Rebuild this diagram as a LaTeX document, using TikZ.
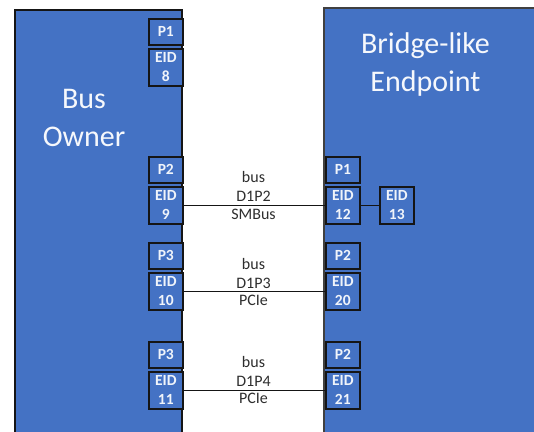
\documentclass[tikz,border=0pt]{standalone}
\usepackage{fontspec}
\setmainfont{Carlito}
\definecolor{boxblue}{HTML}{4472C4}
\definecolor{edge}{HTML}{151515}
\definecolor{lbl}{HTML}{2E2E2E}
\begin{document}
\begin{tikzpicture}[x=1pt,y=-1pt,
  mainbox/.style={fill=boxblue,draw=edge,line width=1.1pt},
  pbox/.style={fill=boxblue,draw=edge,line width=1.6pt,anchor=north west,minimum width=34pt,minimum height=26pt,inner sep=0pt,text=white!92!boxblue,font=\fontsize{15.5}{17}\selectfont\bfseries},
  eidbox/.style={fill=boxblue,draw=edge,line width=1.6pt,anchor=north west,minimum width=34pt,minimum height=37pt,inner sep=0pt,text=white!92!boxblue,align=center,font=\fontsize{15.5}{19}\selectfont\bfseries},
  title/.style={text=white!95!boxblue,align=center,font=\fontsize{30}{38}\selectfont},
  buslbl/.style={text=lbl,align=center,font=\fontsize{16}{19}\selectfont,inner sep=0pt},
  link/.style={draw=edge,line width=1.3pt}]
\useasboundingbox (0,0) rectangle (534,431);
\clip (0,0) rectangle (534,431);
\fill[white] (0,0) rectangle (534,431);
% main boxes
\draw[mainbox] (15,10) rectangle (182,445);
\draw[mainbox,draw=black!75] (324,8) rectangle (545,445);
\node[title] (bo) at (84,117.5) {Bus\\Owner};
\node[title] (be) at (425.5,64.5) {Bridge-like\\Endpoint};
% left ports
\node[pbox] (lp1) at (148,18) {P1};
\node[eidbox] (le8) at (148,48) {EID\\8};
\node[pbox] (lp2) at (148,156) {P2};
\node[eidbox] (le9) at (148,186) {EID\\9};
\node[pbox] (lp3a) at (148,242) {P3};
\node[eidbox] (le10) at (148,272) {EID\\10};
\node[pbox] (lp3b) at (148,341) {P3};
\node[eidbox] (le11) at (148,371) {EID\\11};
% right ports
\node[pbox] (rp1) at (325,156) {P1};
\node[eidbox] (re12) at (325,186) {EID\\12};
\node[eidbox] (re13) at (379,186) {EID\\13};
\node[pbox] (rp2a) at (325,242) {P2};
\node[eidbox] (re20) at (325,272) {EID\\20};
\node[pbox] (rp2b) at (325,341) {P2};
\node[eidbox] (re21) at (325,371) {EID\\21};
% links
\draw[link] (le9.east) -- (re12.west);
\draw[link] (re12.east) -- (re13.west);
\draw[link] (le10.east) -- (re20.west);
\draw[link] (le11.east) -- (re21.west);
% labels
\node[buslbl,anchor=south] (b1) at (253.5,202) {bus\\D1P2};
\node[buslbl,anchor=base] (s1) at (253.5,219.5) {SMBus};
\node[buslbl,anchor=south] (b2) at (253.5,289) {bus\\D1P3};
\node[buslbl,anchor=base] (s2) at (253.5,305.5) {PCIe};
\node[buslbl,anchor=south] (b3) at (253.5,387) {bus\\D1P4};
\node[buslbl,anchor=base] (s3) at (253.5,403.5) {PCIe};
\end{tikzpicture}
\end{document}
